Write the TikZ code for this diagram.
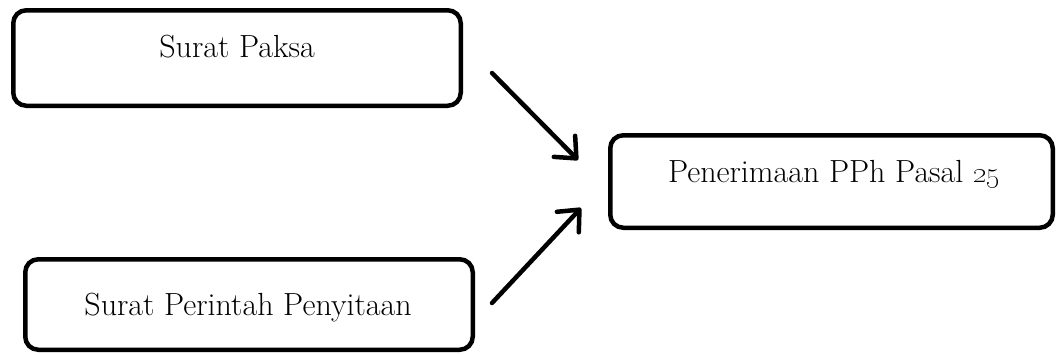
\documentclass[tikz,border=0pt]{standalone}
\usetikzlibrary{arrows.meta}
\begin{document}
\begin{tikzpicture}[x=1pt,y=-1pt,
  box/.style={draw=black, line width=4.5pt, rounded corners=13pt, inner sep=0pt},
  lbl/.style={anchor=base, inner sep=0pt, font=\fontsize{32}{38}\selectfont},
  flow/.style={line width=4.5pt, line cap=round, -{Straight Barb[length=17pt,width=30pt,round]}}]
\useasboundingbox (0,0) rectangle (1058,354);
\node[box, minimum width=447.5pt, minimum height=95.5pt] (paksa) at (237,58) {};
\node[lbl] (paksaT) at (237,57) {Surat Paksa};
\node[box, minimum width=442.5pt, minimum height=92.5pt] (pph) at (831.5,181.5) {};
\node[lbl] (pphT) at (834,182) {Penerimaan PPh Pasal \oldstylenums{25}};
\node[box, minimum width=447.5pt, minimum height=90.5pt] (sita) at (249,304.5) {};
\node[lbl] (sitaT) at (248,315) {Surat Perintah Penyitaan};
\coordinate (a1s) at (492,73);
\coordinate (a1e) at (578,160);
\coordinate (a2s) at (492,303);
\coordinate (a2e) at (581,208);
\draw[flow] (a1s) -- (a1e);
\draw[flow] (a2s) -- (a2e);
\end{tikzpicture}
\end{document}
